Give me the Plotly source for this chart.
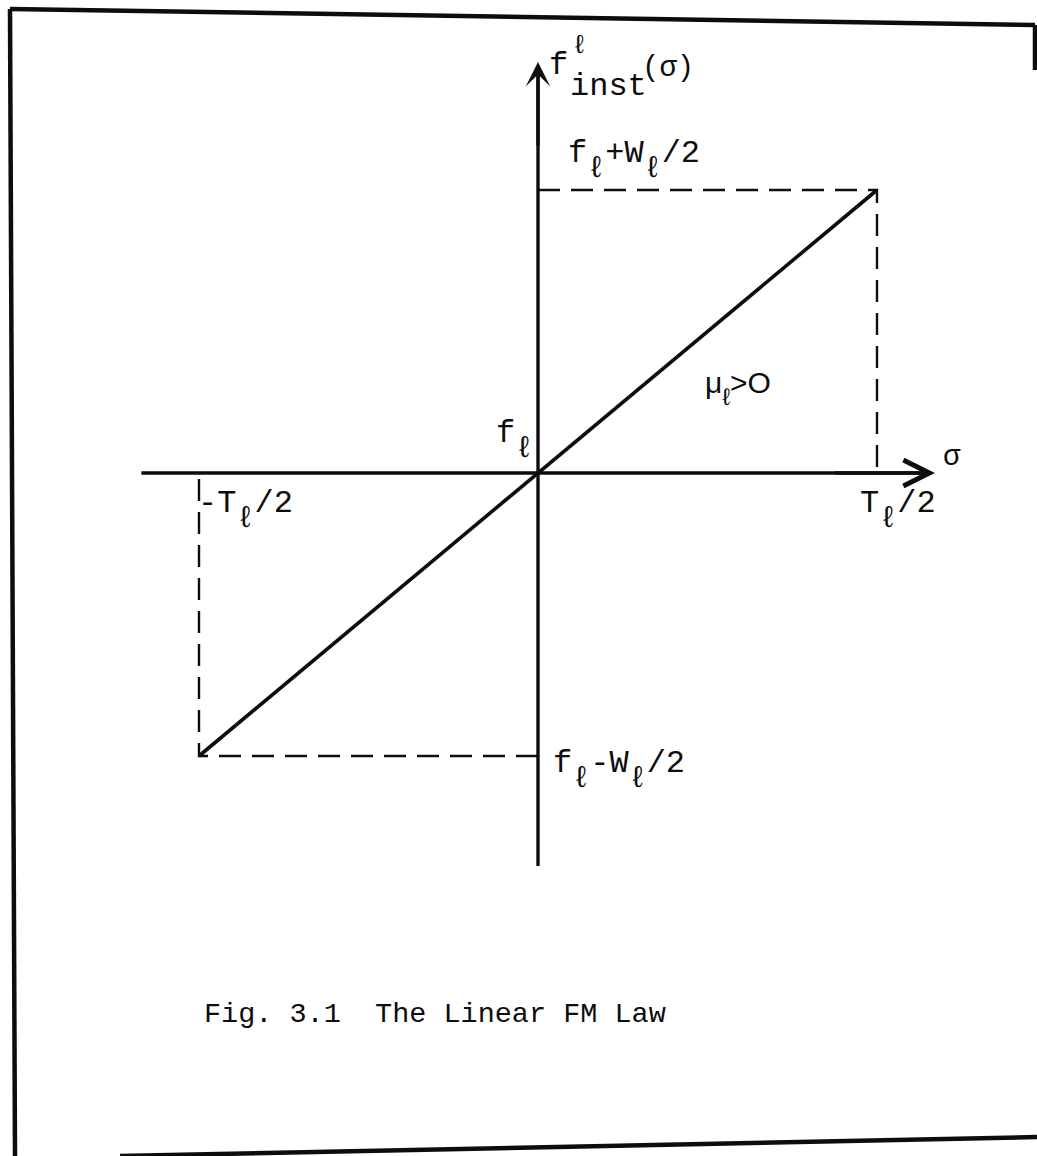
import plotly.graph_objects as go

# Linear FM law: instantaneous frequency vs. time over one pulse
T_half = 1.0          # T_l / 2 (normalised)
W_half = 1.0          # W_l / 2 (normalised)
sigma = [-T_half, 0.0, T_half]
f_inst = [-W_half, 0.0, W_half]

# axis extents (in normalised units)
SIG_LO, SIG_TIP = -1.17, 1.171
F_LO, F_TIP = -1.389, 1.452

W, H = 1037, 1156
X0_PX, Y0_PX = 538, 473        # where the origin sits on the page
SX, SY = 339.0, 283.0          # pixels per unit on each axis

x_range = [-X0_PX / SX, (W - X0_PX) / SX]
y_range = [-(H - Y0_PX) / SY, Y0_PX / SY]

MONO = "Liberation Mono"
INK = "#0d0d0d"

fig = go.Figure()

# coordinate axes
fig.add_trace(go.Scatter(x=[SIG_LO, SIG_TIP - 0.02], y=[0, 0], mode="lines",
                         line=dict(color=INK, width=3.4),
                         hoverinfo="skip", showlegend=False))
fig.add_trace(go.Scatter(x=[0, 0], y=[F_LO, F_TIP - 0.03], mode="lines",
                         line=dict(color=INK, width=3.4),
                         hoverinfo="skip", showlegend=False))

# chirp line
fig.add_trace(go.Scatter(x=[sigma[0], sigma[-1]], y=[f_inst[0], f_inst[-1]],
                         mode="lines", line=dict(color=INK, width=3.6),
                         hoverinfo="skip", showlegend=False))

dash = "22px,11px"
# dashed guides to the end points
fig.add_trace(go.Scatter(x=[0, T_half, T_half], y=[W_half, W_half, 0],
                         mode="lines", line=dict(color=INK, width=2.4, dash=dash),
                         hoverinfo="skip", showlegend=False))
fig.add_trace(go.Scatter(x=[0, -T_half, -T_half], y=[-W_half, -W_half, 0],
                         mode="lines", line=dict(color=INK, width=2.4, dash=dash),
                         hoverinfo="skip", showlegend=False))

# arrow heads at the axis tips
fig.add_annotation(x=SIG_TIP, y=0, ax=SIG_TIP - 0.3, ay=0, xref="x", yref="y",
                   axref="x", ayref="y", showarrow=True, arrowhead=5,
                   arrowsize=1.5, arrowwidth=3.4, arrowcolor=INK, standoff=0, text="")
fig.add_annotation(x=0, y=F_TIP, ax=0, ay=F_TIP - 0.3, xref="x", yref="y",
                   axref="x", ayref="y", showarrow=True, arrowhead=3,
                   arrowsize=1.2, arrowwidth=3.4, arrowcolor=INK, standoff=0, text="")


def px(xp, yp):
    return xp / W, 1 - yp / H


def label(text, xp, yp, size=32, xanchor="left", yanchor="middle", family=MONO):
    x, y = px(xp, yp)
    fig.add_annotation(x=x, y=y, xref="paper", yref="paper", text=text,
                       showarrow=False, xanchor=xanchor, yanchor=yanchor,
                       font=dict(family=family, size=size, color=INK))


L = "ℓ"


def sub(s, size=30, drop=15):
    return (f"<span style='font-size:{size}px;baseline-shift:-{drop}px'>"
            f"{s}</span>")


# ordinate label f^l_inst(sigma)
label("f", 547, 66)
label(L, 570, 46, size=26)
label("inst", 568, 87)
label("(σ)", 640, 69, size=29)

label("f" + sub(L) + "+W" + sub(L) + "/2", 566, 160)
label("f" + sub(L), 494, 440)
label("σ", 941, 457, size=29)
label("T" + sub(L) + "/2", 858, 510)
label("-T" + sub(L) + "/2", 196, 510)
label("f" + sub(L) + "-W" + sub(L) + "/2", 551, 770)
label("μ" + sub(L, 24, 12) + "&gt;O", 703, 388, size=30, family="Liberation Sans")

label("Fig. 3.1  The Linear FM Law", 202, 1014, size=28.5)

# page frame
frame = dict(type="line", xref="paper", yref="paper",
             line=dict(color=INK, width=4.5))
for (a, b), (c, d) in [((10, 9), (1035, 25)),
                       ((10, 9), (15, 1156)),
                       ((1035, 25), (1035, 70)),
                       ((120, 1156), (1037, 1137))]:
    x0, y0 = px(a, b)
    x1, y1 = px(c, d)
    fig.add_shape(**frame, x0=x0, y0=y0, x1=x1, y1=y1)

fig.update_xaxes(range=x_range, visible=False, fixedrange=True)
fig.update_yaxes(range=y_range, visible=False, fixedrange=True)
fig.update_layout(width=W, height=H, margin=dict(l=0, r=0, t=0, b=0),
                  paper_bgcolor="white", plot_bgcolor="white",
                  showlegend=False)

fig.write_html("out.html")
